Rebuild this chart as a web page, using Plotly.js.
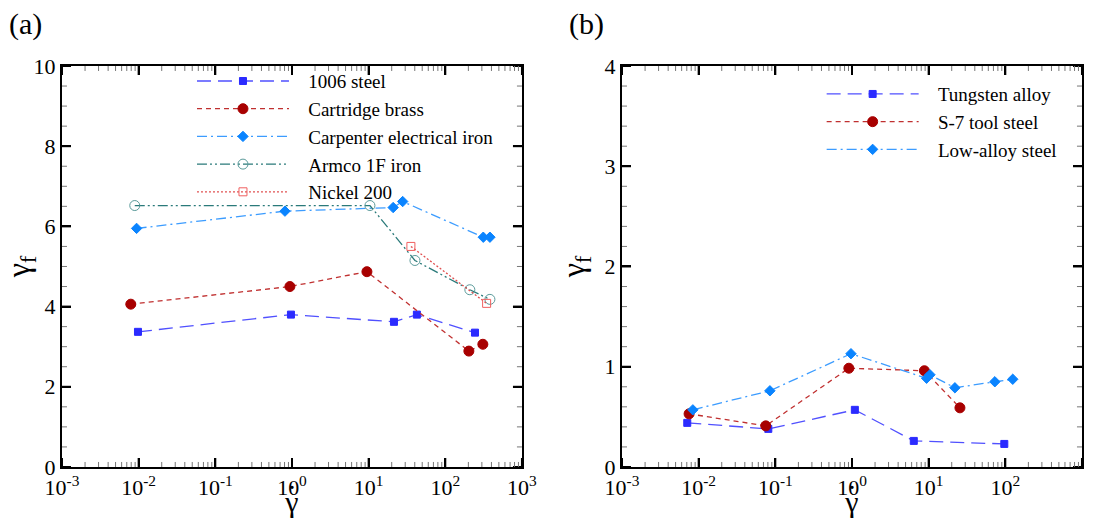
<!DOCTYPE html>
<html><head><meta charset="utf-8">
<script src="https://cdn.plot.ly/plotly-3.0.1.min.js"></script>
<style>body{margin:0;background:#fff}#chart{width:1097px;height:518px}</style>
</head><body><div id="chart"></div>
<script>
// Panel (a)
const steel1006X = [0.0098, 0.97, 21.4, 42.6, 244];
const steel1006Y = [3.37, 3.80, 3.62, 3.80, 3.35];
const brassX = [0.0079, 0.94, 9.5, 203, 309];
const brassY = [4.06, 4.50, 4.87, 2.89, 3.06];
const carpX = [0.0094, 0.81, 20.9, 27.8, 313, 382];
const carpY = [5.95, 6.38, 6.47, 6.62, 5.73, 5.73];
const armcoX = [0.0089, 10.4, 40.2, 209, 382];
const armcoY = [6.52, 6.52, 5.15, 4.42, 4.18];
const nickelX = [35.6, 346];
const nickelY = [5.50, 4.08];
// Panel (b)
const tungX = [0.0071, 0.081, 1.09, 6.4, 97];
const tungY = [0.44, 0.38, 0.57, 0.26, 0.23];
const s7X = [0.0075, 0.075, 0.91, 8.8, 25.6];
const s7Y = [0.53, 0.41, 0.985, 0.96, 0.59];
const lowX = [0.0084, 0.085, 0.97, 9.4, 10.4, 22, 73, 125];
const lowY = [0.57, 0.76, 1.13, 0.885, 0.92, 0.79, 0.85, 0.875];

const xTickVals = [1e-3, 1e-2, 1e-1, 1, 10, 100, 1000];
const xTickText = ['10<sup>-3</sup>','10<sup>-2</sup>','10<sup>-1</sup>','10<sup>0</sup>','10<sup>1</sup>','10<sup>2</sup>','10<sup>3</sup>'];
const yTickValsA = [0, 2, 4, 6, 8, 10];
const yTickValsB = [0, 1, 2, 3, 4];

const FONT = 'Liberation Serif';
const PAD = '\u00a0\u00a0\u00a0';
const W = 1097, H = 518;
const yDom = [0.0985, 0.8726];
const xDomA = [0.0565, 0.4758], xDomB = [0.567, 0.9863];

function tr(x, y, name, color, lineColor, dash, symbol, size, xa, ya, legend) {
  return {
    x: x, y: y, name: PAD + name, type: 'scatter', mode: 'lines+markers',
    xaxis: xa, yaxis: ya, legend: legend,
    line: {color: lineColor, dash: dash, width: 1.3},
    marker: {color: color, symbol: symbol, size: size,
             line: {color: color, width: 1}}
  };
}

// Inside tick marks on all four sides, derived from the axis tick values
function tickTraces(xa, ya, xDom, yv, mstep) {
  const ymax = yv[yv.length - 1];
  const plotH = (yDom[1] - yDom[0]) * H, plotW = (xDom[1] - xDom[0]) * W;
  const dy = px => px * ymax / plotH;           // pixels -> y data units
  const fx = px => Math.pow(10, px * 6 / plotW); // pixels -> log factor
  const out = [];
  [[9, 2, '#000', true], [5, 1, '#777', false]].forEach(([len, w, col, major]) => {
    const X = [], Y = [];
    const xs = [];
    if (major) xTickVals.forEach(v => xs.push(v));
    else for (let e = -3; e < 3; e++) for (let m = 2; m <= 9; m++) xs.push(m * Math.pow(10, e));
    xs.forEach(v => { X.push(v, v, null, v, v, null); Y.push(0, dy(len), null, ymax, ymax - dy(len), null); });
    const ys = [];
    if (major) yv.forEach(v => ys.push(v));
    else { const n = Math.round(ymax / mstep); for (let i = 1; i < n; i++) { const v = i * mstep; if (!yv.some(t => Math.abs(t - v) < 1e-9)) ys.push(v); } }
    ys.forEach(v => { X.push(1e-3, 1e-3 * fx(len), null, 1e3, 1e3 / fx(len), null); Y.push(v, v, null, v, v, null); });
    out.push({x: X, y: Y, xaxis: xa, yaxis: ya, type: 'scatter', mode: 'lines', showlegend: false,
              hoverinfo: 'skip', cliponaxis: false, line: {color: col, width: w}});
  });
  return out;
}

const data = [
  ...tickTraces('x', 'y', xDomA, yTickValsA, 0.5),
  ...tickTraces('x2', 'y2', xDomB, yTickValsB, 0.2),
  tr(steel1006X, steel1006Y, '1006 steel', '#2b2bff', '#5050ff', '14px,7px', 'square', 7, 'x', 'y', 'legend'),
  tr(brassX, brassY, 'Cartridge brass', '#a80000', '#c03030', '5px,4px', 'circle', 10, 'x', 'y', 'legend'),
  tr(carpX, carpY, 'Carpenter electrical iron', '#0a84ff', '#3c9cff', '10px,4px,2px,4px', 'diamond', 8, 'x', 'y', 'legend'),
  tr(armcoX, armcoY, 'Armco 1F iron', '#5a9a9a', '#2a7a7a', '10px,3px,2px,3px,2px,3px', 'circle-open', 10, 'x', 'y', 'legend'),
  tr(nickelX, nickelY, 'Nickel 200', '#f06060', '#e05050', '2px,2px', 'square-open', 8, 'x', 'y', 'legend'),
  tr(tungX, tungY, 'Tungsten alloy', '#2b2bff', '#5050ff', '14px,7px', 'square', 7, 'x2', 'y2', 'legend2'),
  tr(s7X, s7Y, 'S-7 tool steel', '#a80000', '#c03030', '5px,4px', 'circle', 10, 'x2', 'y2', 'legend2'),
  tr(lowX, lowY, 'Low-alloy steel', '#0a84ff', '#3c9cff', '10px,4px,2px,4px', 'diamond', 8, 'x2', 'y2', 'legend2')
];

function xAxis(domain, anchor) {
  return {
    domain: domain, anchor: anchor, type: 'log', range: [-3, 3],
    tickmode: 'array', tickvals: xTickVals, ticktext: xTickText,
    ticks: 'inside', ticklen: 9, tickwidth: 2, tickcolor: '#000',
    showline: true, linewidth: 2, linecolor: '#000', mirror: 'allticks',
    showgrid: false, zeroline: false,
    tickfont: {family: FONT, size: 22, color: '#000'},
    title: {text: 'γ', font: {family: FONT, size: 30, color: '#000'}, standoff: 2}
  };
}
function yAxis(domain, anchor, vals) {
  return {
    domain: domain, anchor: anchor, range: [0, vals[vals.length - 1]],
    tickmode: 'array', tickvals: vals,
    ticks: 'inside', ticklen: 9, tickwidth: 2, tickcolor: '#000',
    showline: true, linewidth: 2, linecolor: '#000', mirror: 'allticks',
    showgrid: false, zeroline: false,
    tickfont: {family: FONT, size: 22, color: '#000'},
    title: {text: 'γ<sub>f</sub>', font: {family: FONT, size: 32, color: '#000'}, standoff: 10}
  };
}

const layout = {
  width: W, height: H,
  margin: {l: 0, r: 0, t: 0, b: 0},
  paper_bgcolor: '#fff', plot_bgcolor: '#fff',
  font: {family: FONT, color: '#000'},
  xaxis: xAxis(xDomA, 'y'),
  yaxis: yAxis(yDom, 'x', yTickValsA),
  xaxis2: xAxis(xDomB, 'y2'),
  yaxis2: yAxis(yDom, 'x2', yTickValsB),
  legend: {x: 0.175, y: 0.88, xanchor: 'left', yanchor: 'top', bgcolor: 'rgba(0,0,0,0)',
           font: {family: FONT, size: 19, color: '#000'}, itemwidth: 92, tracegroupgap: 0},
  legend2: {x: 0.749, y: 0.855, xanchor: 'left', yanchor: 'top', bgcolor: 'rgba(0,0,0,0)',
            font: {family: FONT, size: 19, color: '#000'}, itemwidth: 92, tracegroupgap: 0},
  annotations: [
    {text: '(a)', xref: 'paper', yref: 'paper', x: 0.006, y: 0.99, xanchor: 'left', yanchor: 'top', showarrow: false, font: {family: FONT, size: 30, color: '#000'}},
    {text: '(b)', xref: 'paper', yref: 'paper', x: 0.517, y: 0.99, xanchor: 'left', yanchor: 'top', showarrow: false, font: {family: FONT, size: 30, color: '#000'}},
    {text: '˙', xref: 'x domain', yref: 'paper', x: 0.5, y: 0.043, xanchor: 'center', yanchor: 'middle', showarrow: false, font: {family: FONT, size: 30, color: '#000'}},
    {text: '˙', xref: 'x2 domain', yref: 'paper', x: 0.5, y: 0.043, xanchor: 'center', yanchor: 'middle', showarrow: false, font: {family: FONT, size: 30, color: '#000'}}
  ],
  showlegend: true
};

Plotly.newPlot('chart', data, layout, {displayModeBar: false, staticPlot: true});
</script></body></html>
